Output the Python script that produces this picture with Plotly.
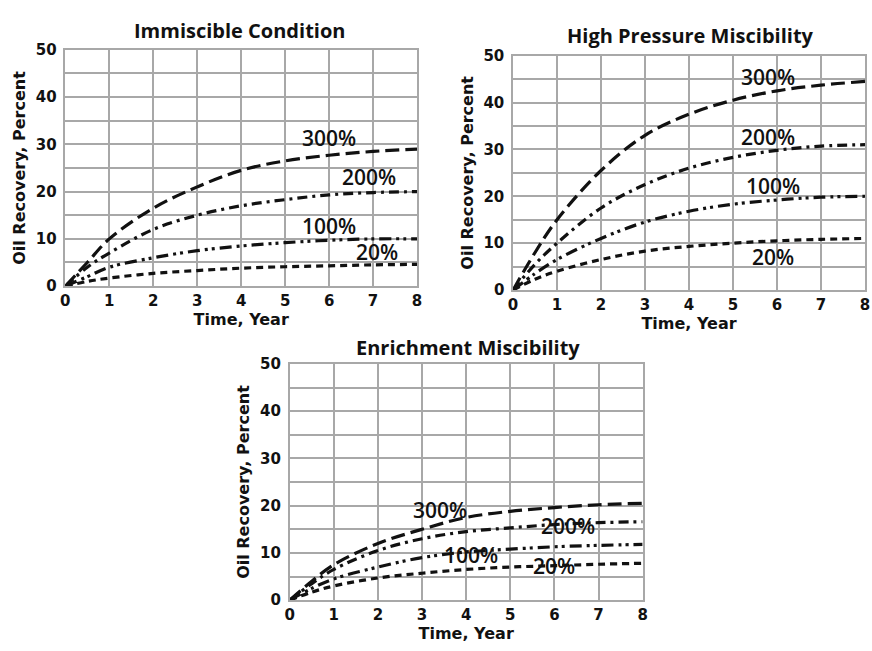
import plotly.graph_objects as go

years = [0, 0.5, 1, 2, 3, 4, 5, 6, 7, 8]
series_names = ["300%", "200%", "100%", "20%"]

imm_300 = [0, 5, 10, 16.5, 21, 24.5, 26.5, 27.7, 28.5, 29]
imm_200 = [0, 4, 7, 12, 15, 17, 18.3, 19.3, 19.8, 20]
imm_100 = [0, 2, 4, 6, 7.5, 8.5, 9.2, 9.7, 10, 10]
imm_20 = [0, 1, 1.7, 2.7, 3.3, 3.8, 4.1, 4.3, 4.5, 4.6]

hpm_300 = [0, 8, 15, 25.5, 33, 37.5, 40.5, 42.5, 43.7, 44.5]
hpm_200 = [0, 5.5, 10, 17.5, 22.5, 26, 28.3, 29.8, 30.7, 31]
hpm_100 = [0, 3.5, 6.5, 11, 14.5, 16.8, 18.3, 19.2, 19.8, 20]
hpm_20 = [0, 2.3, 4, 6.5, 8.3, 9.3, 10, 10.5, 10.8, 11]

enr_300 = [0, 4, 7.5, 12, 15, 17.5, 18.8, 19.6, 20.2, 20.5]
enr_200 = [0, 3.5, 6.5, 10.5, 13, 14.5, 15.3, 16, 16.4, 16.6]
enr_100 = [0, 2.5, 4.5, 7, 9, 10.2, 10.8, 11.3, 11.6, 11.8]
enr_20 = [0, 1.7, 3, 4.7, 5.7, 6.5, 7, 7.3, 7.6, 7.8]

titles = ["Immiscible Condition", "High Pressure Miscibility", "Enrichment Miscibility"]
x_ticks = [0, 1, 2, 3, 4, 5, 6, 7, 8]
y_ticks = [0, 10, 20, 30, 40, 50]

# label positions (x, y) per panel
imm_lbl = [(6.0, 31.3), (6.9, 23.0), (6.0, 12.7), (7.1, 7.2)]
hpm_lbl = [(5.8, 45.4), (5.8, 32.6), (5.9, 22.2), (5.9, 7.0)]
enr_lbl = [(3.4, 19.1), (6.3, 15.6), (4.1, 9.5), (6.0, 7.2)]

dashes = ["14px,6px", "10px,5px,3px,5px", "12px,5px,3px,4px,3px,5px", "7px,5px"]

panels = [
    (titles[0], [imm_300, imm_200, imm_100, imm_20], imm_lbl, "x", "y"),
    (titles[1], [hpm_300, hpm_200, hpm_100, hpm_20], hpm_lbl, "x2", "y2"),
    (titles[2], [enr_300, enr_200, enr_100, enr_20], enr_lbl, "x3", "y3"),
]

domains = [
    ([0.070, 0.478], [0.5622, 0.9355]),
    ([0.5894, 0.9977], [0.5561, 0.9263]),
    ([0.3303, 0.7397], [0.0661, 0.4393]),
]
title_pos = [(237, 22), (693, 27), (468, 348)]

W, H = 872, 651

fig = go.Figure()
annotations = []
for (title, data, lbls, xa, ya), (tx, ty) in zip(panels, title_pos):
    for name, vals, dash in zip(series_names, data, dashes):
        fig.add_trace(go.Scatter(x=years, y=vals, mode="lines", name=name,
                                 line=dict(color="#111111", width=3.2, dash=dash, shape="spline"),
                                 xaxis=xa, yaxis=ya, showlegend=False))
    for name, (lx, ly) in zip(series_names, lbls):
        annotations.append(dict(x=lx, y=ly, xref=xa, yref=ya, text=name, showarrow=False,
                                xanchor="center", yanchor="middle",
                                font=dict(family="Open Sans", size=21, color="#111111", weight=600)))
    annotations.append(dict(x=tx / W, y=1 - ty / H, xref="paper", yref="paper",
                            text="<b>" + title + "</b>", showarrow=False,
                            xanchor="center", yanchor="middle",
                            font=dict(family="Open Sans", size=20, color="#111111")))

axis_common = dict(showgrid=True, gridcolor="#a8a8a8", gridwidth=1.5, zeroline=False,
                   showline=True, linecolor="#a8a8a8", linewidth=1.5, mirror=True,
                   ticks="", tickfont=dict(family="DejaVu Sans", size=15, color="#111111", weight="bold"))

layout = dict(width=W, height=H, margin=dict(l=0, r=0, t=0, b=0),
              paper_bgcolor="white", plot_bgcolor="white", annotations=annotations)
for i, (xd, yd) in enumerate(domains):
    sfx = "" if i == 0 else str(i + 1)
    layout["xaxis" + sfx] = dict(axis_common, domain=xd, anchor="y" + sfx, range=[0, 8],
                                 tickvals=x_ticks,
                                 title=dict(text="<b>Time, Year</b>", standoff=0,
                                            font=dict(family="DejaVu Sans", size=16, color="#111111")))
    layout["yaxis" + sfx] = dict(axis_common, domain=yd, anchor="x" + sfx, range=[0, 50],
                                 tickvals=y_ticks, ticklabelstandoff=4,
                                 minor=dict(showgrid=True, gridcolor="#a8a8a8", gridwidth=1.5, dtick=5, tick0=0),
                                 title=dict(text="<b>Oil Recovery, Percent</b>", standoff=6,
                                            font=dict(family="DejaVu Sans", size=16, color="#111111")))

fig.update_layout(**layout)
fig.write_html("out.html")
